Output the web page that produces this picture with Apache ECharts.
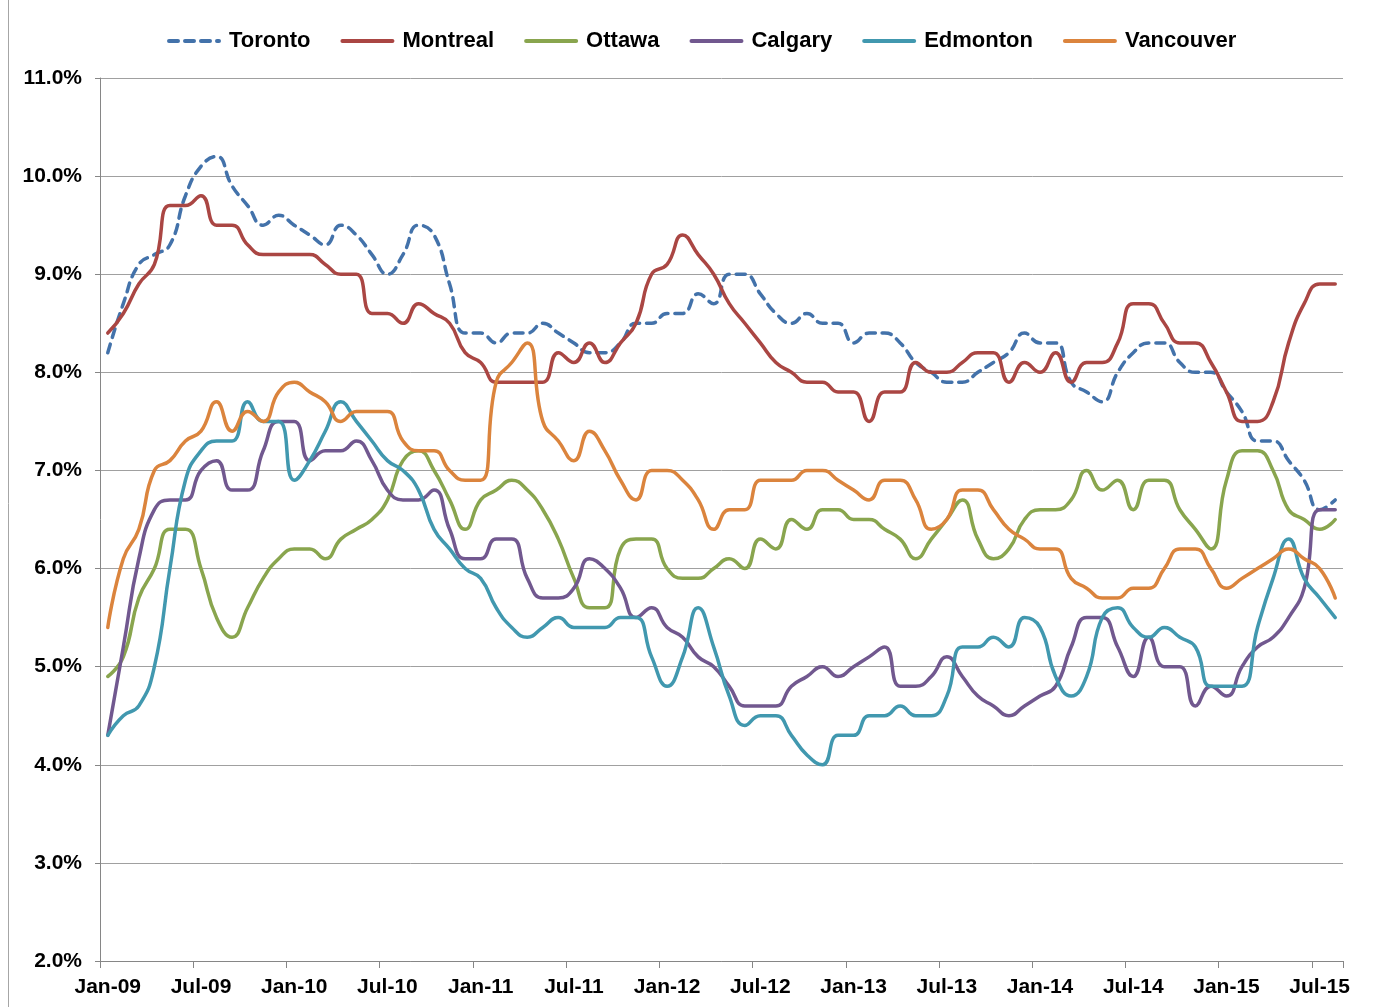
<!DOCTYPE html>
<html lang="en">

<head>
    <meta charset="UTF-8">
    <script type="text/javascript" src="https://cdn.jsdelivr.net/npm/echarts@6/dist/echarts.min.js"></script>
    <title>Vacancy rates</title>
    <style type="text/css">
        html, body {
            margin: 0;
            padding: 0;
            background: #fff;
        }

        #chart {
            width: 1377px;
            height: 1007px;
        }
    </style>
</head>

<body>
<div id="chart"></div>
<script type="text/javascript">
    // monthly, Jan-09 .. Aug-15
    const years = ['09', '10', '11', '12', '13', '14', '15'];
    const monthNames = ['Jan', 'Feb', 'Mar', 'Apr', 'May', 'Jun', 'Jul', 'Aug', 'Sep', 'Oct', 'Nov', 'Dec'];
    const lastMonth = 8; // Aug-15

    const yTicks = [2, 3, 4, 5, 6, 7, 8, 9, 10, 11];

    const toronto = [
        8.2, 8.7, 9.1, 9.2, 9.3, 9.8, 10.1, 10.2, 9.9, 9.7, 9.5, 9.6, 9.5, 9.4, 9.3,
        9.5, 9.4, 9.2, 9.0, 9.2, 9.5, 9.4, 8.9, 8.4, 8.4, 8.3, 8.4, 8.4, 8.5,
        8.4, 8.3, 8.2, 8.2, 8.3, 8.5, 8.5, 8.6, 8.6, 8.8, 8.7, 9.0, 9.0,
        8.8, 8.6, 8.5, 8.6, 8.5, 8.5, 8.3, 8.4, 8.4, 8.3, 8.1, 8.0, 7.9, 7.9,
        8.0, 8.1, 8.2, 8.4, 8.3, 8.3, 7.9, 7.8, 7.7, 8.0, 8.2, 8.3, 8.3, 8.1,
        8.0, 8.0, 7.8, 7.6, 7.3, 7.3, 7.1, 6.9, 6.6, 6.7
    ];
    const montreal = [
        8.4, 8.6, 8.9, 9.1, 9.7, 9.7, 9.8, 9.5, 9.5, 9.3, 9.2, 9.2, 9.2, 9.2, 9.1,
        9.0, 9.0, 8.6, 8.6, 8.5, 8.7, 8.6, 8.5, 8.2, 8.1, 7.9, 7.9, 7.9, 7.9,
        8.2, 8.1, 8.3, 8.1, 8.3, 8.5, 9.0, 9.1, 9.4, 9.2, 9.0, 8.7, 8.5,
        8.3, 8.1, 8.0, 7.9, 7.9, 7.8, 7.8, 7.5, 7.8, 7.8, 8.1, 8.0, 8.0, 8.1,
        8.2, 8.2, 7.9, 8.1, 8.0, 8.2, 7.9, 8.1, 8.1, 8.3, 8.7, 8.7, 8.5, 8.3,
        8.3, 8.1, 7.8, 7.5, 7.5, 7.7, 8.3, 8.7, 8.9, 8.9
    ];
    const ottawa = [
        4.9, 5.1, 5.7, 6.0, 6.4, 6.4, 6.0, 5.5, 5.3, 5.6, 5.9, 6.1, 6.2, 6.2, 6.1,
        6.3, 6.4, 6.5, 6.7, 7.1, 7.2, 7.0, 6.7, 6.4, 6.7, 6.8, 6.9, 6.8, 6.6,
        6.3, 5.9, 5.6, 5.6, 6.2, 6.3, 6.3, 6.0, 5.9, 5.9, 6.0, 6.1, 6.0,
        6.3, 6.2, 6.5, 6.4, 6.6, 6.6, 6.5, 6.5, 6.4, 6.3, 6.1, 6.3, 6.5, 6.7,
        6.3, 6.1, 6.2, 6.5, 6.6, 6.6, 6.7, 7.0, 6.8, 6.9, 6.6, 6.9, 6.9, 6.6,
        6.4, 6.2, 6.9, 7.2, 7.2, 7.0, 6.6, 6.5, 6.4, 6.5
    ];
    const calgary = [
        4.3, 5.2, 6.1, 6.6, 6.7, 6.7, 7.0, 7.1, 6.8, 6.8, 7.2, 7.5, 7.5, 7.1, 7.2,
        7.2, 7.3, 7.1, 6.8, 6.7, 6.7, 6.8, 6.4, 6.1, 6.1, 6.3, 6.3, 5.9, 5.7,
        5.7, 5.8, 6.1, 6.0, 5.8, 5.5, 5.6, 5.4, 5.3, 5.1, 5.0, 4.8, 4.6,
        4.6, 4.6, 4.8, 4.9, 5.0, 4.9, 5.0, 5.1, 5.2, 4.8, 4.8, 4.9, 5.1, 4.9,
        4.7, 4.6, 4.5, 4.6, 4.7, 4.8, 5.2, 5.5, 5.5, 5.2, 4.9, 5.3, 5.0, 5.0,
        4.6, 4.8, 4.7, 5.0, 5.2, 5.3, 5.5, 5.8, 6.6, 6.6
    ];
    const edmonton = [
        4.3, 4.5, 4.6, 5.0, 6.0, 6.9, 7.2, 7.3, 7.3, 7.7, 7.5, 7.5, 6.9, 7.1, 7.4,
        7.7, 7.5, 7.3, 7.1, 7.0, 6.8, 6.4, 6.2, 6.0, 5.9, 5.6, 5.4, 5.3, 5.4,
        5.5, 5.4, 5.4, 5.4, 5.5, 5.5, 5.1, 4.8, 5.1, 5.6, 5.2, 4.7, 4.4,
        4.5, 4.5, 4.3, 4.1, 4.0, 4.3, 4.3, 4.5, 4.5, 4.6, 4.5, 4.5, 4.7, 5.2,
        5.2, 5.3, 5.2, 5.5, 5.4, 4.9, 4.7, 4.9, 5.5, 5.6, 5.4, 5.3, 5.4, 5.3,
        5.2, 4.8, 4.8, 4.8, 5.4, 5.9, 6.3, 5.9, 5.7, 5.5
    ];
    const vancouver = [
        5.4, 6.1, 6.4, 7.0, 7.1, 7.3, 7.4, 7.7, 7.4, 7.6, 7.5, 7.8, 7.9, 7.8, 7.7,
        7.5, 7.6, 7.6, 7.6, 7.3, 7.2, 7.2, 7.0, 6.9, 6.9, 7.9, 8.1, 8.3, 7.5,
        7.3, 7.1, 7.4, 7.2, 6.9, 6.7, 7.0, 7.0, 6.9, 6.7, 6.4, 6.6, 6.6,
        6.9, 6.9, 6.9, 7.0, 7.0, 6.9, 6.8, 6.7, 6.9, 6.9, 6.7, 6.4, 6.5, 6.8,
        6.8, 6.6, 6.4, 6.3, 6.2, 6.2, 5.9, 5.8, 5.7, 5.7, 5.8, 5.8, 6.0, 6.2,
        6.2, 6.0, 5.8, 5.9, 6.0, 6.1, 6.2, 6.1, 6.0, 5.7
    ];

    const cityNames = ['Toronto', 'Montreal', 'Ottawa', 'Calgary', 'Edmonton', 'Vancouver'];
    const cityData = [toronto, montreal, ottawa, calgary, edmonton, vancouver];
    const cityColors = ['#4372AA', '#AA4643', '#89A54E', '#71588F', '#4198AF', '#DB843D'];

    let months = [];
    years.forEach((y, yi) => {
        monthNames.forEach((m, mi) => {
            if (yi < years.length - 1 || mi < lastMonth) {
                months.push(m + '-' + y);
            }
        });
    });

    const font = '"Liberation Sans", Arial, sans-serif';

    let chart = echarts.init(document.getElementById('chart'));

    let option = {
        animation: false,
        backgroundColor: '#fff',
        graphic: [{
            type: 'line',
            shape: {x1: 8.5, y1: 0, x2: 8.5, y2: 1007},
            style: {stroke: '#a6a6a6', lineWidth: 1}
        }],
        legend: {
            top: 25,
            left: 162,
            itemWidth: 50,
            itemHeight: 10,
            itemGap: 30,
            itemStyle: {opacity: 0},
            lineStyle: {width: 4},
            textStyle: {
                fontFamily: font,
                fontWeight: 'bold',
                fontSize: 22,
                color: '#000',
                padding: [0, 0, 0, 5]
            },
            data: cityNames
        },
        grid: {
            left: 100,
            right: 34,
            top: 78,
            bottom: 46
        },
        xAxis: {
            type: 'category',
            boundaryGap: true,
            data: months,
            axisLine: {lineStyle: {color: '#868686', width: 1}},
            axisTick: {
                show: true,
                interval: 5,
                length: 7,
                lineStyle: {color: '#868686'}
            },
            axisLabel: {
                interval: 5,
                margin: 16,
                fontFamily: font,
                fontWeight: 'bold',
                fontSize: 21,
                color: '#000'
            },
            splitLine: {show: false}
        },
        yAxis: {
            type: 'value',
            min: yTicks[0],
            max: yTicks[yTicks.length - 1],
            interval: 1,
            axisLine: {show: true, lineStyle: {color: '#868686', width: 1}},
            axisTick: {show: true, length: 5, lineStyle: {color: '#868686'}},
            axisLabel: {
                margin: 18,
                fontFamily: font,
                fontWeight: 'bold',
                fontSize: 21,
                color: '#000',
                formatter: function (v) {
                    return v.toFixed(1) + '%';
                }
            },
            splitLine: {lineStyle: {color: '#a0a0a0', width: 1}}
        },
        series: cityNames.map((name, i) => {
            return {
                name: name,
                type: 'line',
                smooth: 0.5,
                symbol: 'none',
                data: cityData[i],
                itemStyle: {color: cityColors[i]},
                lineStyle: {
                    color: cityColors[i],
                    width: 3.5,
                    type: i === 0 ? [9, 7] : 'solid',
                    cap: 'round'
                }
            }
        })
    };
    chart.setOption(option);
</script>
</body>

</html>
